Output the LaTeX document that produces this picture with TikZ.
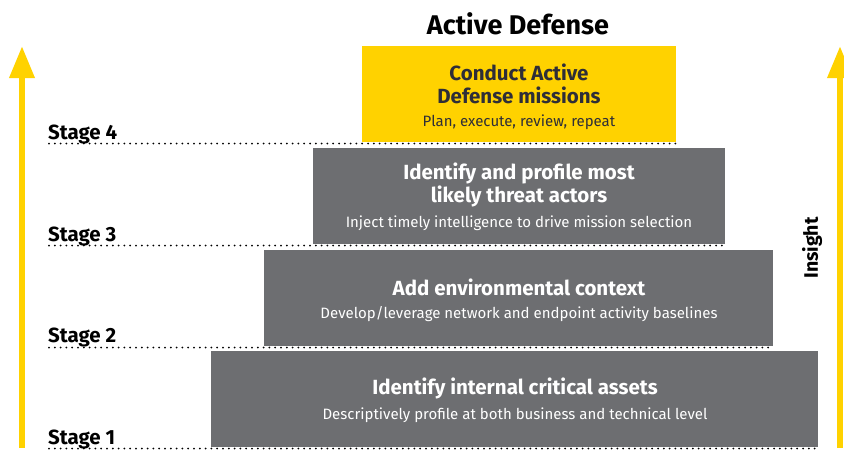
\documentclass[tikz,border=0pt]{standalone}
\usepackage{fontspec}
\setmainfont{Fira Sans}
\usetikzlibrary{arrows.meta}
\definecolor{eyyellow}{HTML}{FFD200}
\definecolor{eygrey}{HTML}{6D6E71}
\definecolor{eydark}{HTML}{2E2E38}
\begin{document}
\begin{tikzpicture}[x=1pt,y=-1pt,
  ttl/.style={font=\fontsize{20.5}{23}\selectfont\bfseries, align=center},
  sub/.style={font=\fontsize{15}{17}\selectfont, align=center},
  stagelbl/.style={font=\fontsize{20.5}{22}\selectfont\bfseries, anchor=base west, inner sep=0pt},
  dotline/.style={line width=2pt, line cap=round, dash pattern=on 0pt off 5.8pt},
  bigarrow/.style={eyyellow, line width=6.5pt, -{Triangle[width=24pt,length=32pt]}}
]
\useasboundingbox (0,0) rectangle (844,450);
% title
\node[font=\fontsize{27}{30}\selectfont\bfseries, text=black] (title) at (518,24) {Active Defense};
% boxes
\fill[eyyellow] (362,46) rectangle (676,142);
\fill[eygrey] (313,148) rectangle (725,244);
\fill[eygrey] (264,250) rectangle (773,346);
\fill[eygrey] (211,351) rectangle (818,447);
% box texts
\node[ttl, text=eydark] (t4) at (519,84) {Conduct Active\\Defense missions};
\node[sub, text=eydark] (s4) at (519,122) {Plan, execute, review, repeat};
\node[ttl, text=white] (t3) at (519,185) {Identify and profile most\\likely threat actors};
\node[sub, text=white] (s3) at (519,223) {Inject timely intelligence to drive mission selection};
\node[ttl, text=white] (t2) at (519,287) {Add environmental context};
\node[sub, text=white] (s2) at (519,314) {Develop/leverage network and endpoint activity baselines};
\node[ttl, text=white] (t1) at (515,388) {Identify internal critical assets};
\node[sub, text=white] (s1) at (515,415) {Descriptively profile at both business and technical level};
% stage labels
\node[stagelbl] (st4) at (48,139) {Stage 4};
\node[stagelbl] (st3) at (48,241) {Stage 3};
\node[stagelbl] (st2) at (48,342) {Stage 2};
\node[stagelbl] (st1) at (48,444) {Stage 1};
% dotted lines
\coordinate (d4a) at (49,143.5); \coordinate (d4b) at (676,143.5);
\coordinate (d3a) at (49,245.5); \coordinate (d3b) at (725,245.5);
\coordinate (d2a) at (49,347.5); \coordinate (d2b) at (773,347.5);
\coordinate (d1a) at (49,448.5); \coordinate (d1b) at (818,448.5);
\draw[dotline] (d4a) -- (d4b);
\draw[dotline] (d3a) -- (d3b);
\draw[dotline] (d2a) -- (d2b);
\draw[dotline] (d1a) -- (d1b);
% arrows
\coordinate (la) at (22,448); \coordinate (lb) at (22,46);
\coordinate (ra) at (840,448); \coordinate (rb) at (840,46);
\draw[bigarrow] (la) -- (lb);
\draw[bigarrow] (ra) -- (rb);
\node[rotate=90, font=\fontsize{19.5}{21}\selectfont\bfseries] (ins) at (812,248) {Insight};
\end{tikzpicture}
\end{document}
